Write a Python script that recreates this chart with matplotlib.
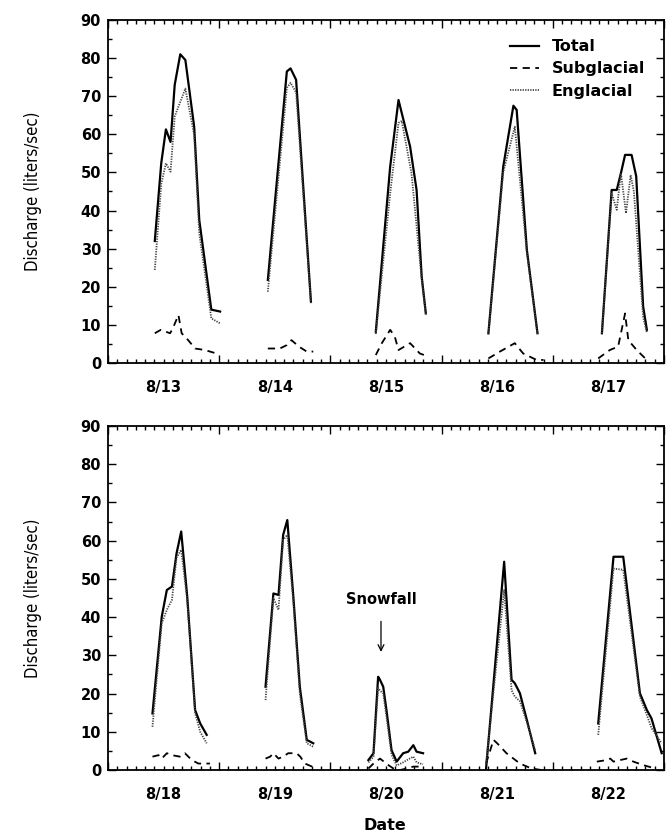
import matplotlib
matplotlib.use("Agg")
import matplotlib.pyplot as plt
from matplotlib.ticker import MultipleLocator

# dates shown on each panel (labels sit at noon of each day)
top_dates = ["8/13", "8/14", "8/15", "8/16", "8/17"]
bottom_dates = ["8/18", "8/19", "8/20", "8/21", "8/22"]

# hour of day / discharge (liters/sec)
total_hours = {
    "8/13": [10.1, 11.5, 12.5, 13.5, 14.4, 15.6, 16.7, 18.6, 19.7, 22.3, 24.2],
    "8/14": [10.5, 14.6, 15.4, 16.6, 19.8],
    "8/15": [9.8, 12.9, 14.7, 17.2, 18.6, 19.7, 20.6],
    "8/16": [10.1, 13.3, 15.5, 16.2, 18.4, 20.7],
    "8/17": [10.6, 12.7, 13.8, 14.7, 15.6, 17.0, 18.0, 19.5, 20.3],
    "8/18": [9.6, 11.6, 12.7, 13.8, 14.8, 15.8, 17.1, 18.8, 19.9, 21.3],
    "8/19": [10.0, 11.7, 12.8, 13.8, 14.7, 16.0, 17.4, 18.9, 20.3],
    "8/20": [8.2, 9.3, 10.3, 10.7, 11.4, 12.1, 13.2, 14.3, 15.7, 16.8, 17.9, 18.6, 20.0],
    "8/21": [9.6, 13.5, 15.1, 15.8, 16.9, 18.4, 20.2],
    "8/22": [9.8, 13.1, 15.2, 18.8, 20.3, 21.3, 23.5],
}
total_vals = {
    "8/13": [32, 52.5, 61.3, 58, 73, 81, 79.5, 62, 37.5, 14, 13.5],
    "8/14": [21.8, 76.5, 77.3, 74.3, 16.1],
    "8/15": [8.2, 51.5, 69, 56.8, 45.4, 22.7, 13],
    "8/16": [7.8, 51.5, 67.5, 66.4, 29.7, 7.8],
    "8/17": [7.8, 45.4, 45.4, 49.8, 54.6, 54.6, 49, 14.8, 8.7],
    "8/18": [14.8, 40.1, 47.1, 48, 56.7, 62.4, 45.4, 15.7, 12.2, 9.2],
    "8/19": [21.8, 46.2, 45.8, 61.5, 65.4, 45.4, 21.8, 7.9, 7],
    "8/20": [2.6, 4.4, 24.4, 23.6, 21.8, 15.7, 5.2, 2.2, 4.4, 4.8, 6.5, 4.8, 4.4],
    "8/21": [0.4, 54.5, 23.6, 22.7, 20.1, 13.1, 4.4],
    "8/22": [12.2, 55.8, 55.8, 20.1, 15.7, 13.5, 4.4],
}

sub_hours = {
    "8/13": [10.1, 11.4, 13.4, 14.0, 15.2, 15.9, 17.3, 18.8, 20.9, 23.4],
    "8/14": [10.5, 13.1, 14.6, 15.6, 17.2, 18.9, 20.3],
    "8/15": [9.8, 11.1, 12.9, 13.9, 14.7, 17.2, 19.3, 21.1],
    "8/16": [10.1, 12.6, 15.8, 17.6, 20.5, 22.0],
    "8/17": [9.8, 12.3, 14.1, 15.6, 16.3, 18.1, 20.3],
    "8/18": [9.6, 10.9, 11.6, 12.7, 13.8, 15.5, 16.6, 18.1, 19.5, 22.0],
    "8/19": [10.0, 11.0, 11.7, 12.8, 13.8, 14.9, 16.7, 17.5, 18.5, 21.0],
    "8/20": [8.2, 9.3, 10.7, 12.5, 13.6, 15.0, 16.5, 17.9, 20.0],
    "8/21": [9.6, 11.2, 12.0, 14.0, 16.9, 19.4, 21.6],
    "8/22": [9.5, 11.6, 12.4, 13.1, 14.5, 16.0, 17.4, 19.5, 22.1],
}
sub_vals = {
    "8/13": [7.8, 8.7, 7.8, 9.1, 12.6, 7.8, 6, 3.8, 3.4, 2.5],
    "8/14": [3.8, 3.8, 4.7, 6, 4.3, 3, 3],
    "8/15": [2.1, 5.2, 8.7, 6.9, 3.4, 5.2, 2.5, 1.7],
    "8/16": [1.2, 3, 5.2, 2.5, 0.8, 0.8],
    "8/17": [1.2, 3.4, 4.3, 13, 6, 3.4, 0.8],
    "8/18": [3.5, 3.9, 3, 4.4, 3.9, 3.5, 4.4, 2.6, 1.7, 1.7],
    "8/19": [3, 3.5, 4.4, 3, 3.5, 4.4, 4.4, 3.5, 1.7, 0.4],
    "8/20": [0.4, 1.7, 3, 1.3, 0.4, 0, 0.4, 0.9, 0.9],
    "8/21": [1.7, 7.9, 7, 4.4, 1.7, 0.4, 0],
    "8/22": [2.2, 2.6, 3, 2.2, 2.6, 3, 2.2, 1.3, 0.4],
}

eng_hours = {
    "8/13": [10.1, 11.5, 12.5, 13.5, 14.4, 16.7, 18.6, 19.7, 22.3, 24.2],
    "8/14": [10.5, 14.6, 15.4, 16.6, 19.8],
    "8/15": [9.8, 12.9, 14.7, 15.4, 17.5, 19.7, 20.6],
    "8/16": [10.1, 13.3, 15.8, 18.4, 20.7],
    "8/17": [10.6, 12.7, 13.8, 14.7, 15.8, 16.8, 17.5, 19.5, 20.3],
    "8/18": [9.6, 11.6, 12.7, 13.8, 14.8, 15.8, 17.1, 18.8, 19.9, 21.3],
    "8/19": [10.0, 11.7, 12.8, 13.8, 14.7, 16.0, 17.4, 18.9, 20.3],
    "8/20": [8.2, 9.3, 10.3, 10.7, 11.4, 12.1, 13.2, 14.3, 15.7, 16.8, 17.9, 18.6, 20.0],
    "8/21": [9.6, 13.5, 15.1, 15.8, 16.9, 18.4, 20.2],
    "8/22": [9.8, 13.1, 15.2, 18.8, 20.3, 21.3, 23.5],
}
eng_vals = {
    "8/13": [24.4, 47, 52.4, 50.2, 64.7, 72, 59.8, 34, 11.7, 10.4],
    "8/14": [18.7, 72.2, 73.5, 71, 15.7],
    "8/15": [7.6, 44.5, 63, 63.5, 49.8, 22, 12.7],
    "8/16": [7.5, 50, 62, 29, 7.5],
    "8/17": [7.8, 44.5, 40.2, 49.8, 39.3, 49.3, 45, 12, 8],
    "8/18": [11.3, 38.4, 41.9, 44.5, 55.6, 57.6, 44.5, 14.9, 10, 7],
    "8/19": [18.3, 45, 41.9, 60.2, 61.5, 44, 20, 7, 6.1],
    "8/20": [2, 3.5, 21.5, 20.8, 20, 14, 4, 1.2, 2, 2.8, 3.5, 2, 1.5],
    "8/21": [1.7, 47.1, 20.9, 19.2, 18, 12.5, 5.2],
    "8/22": [9.2, 52.7, 52.4, 19.2, 14.4, 11, 7],
}

tick_font = dict(family="DejaVu Sans", size=10.5, weight="bold")


def draw_panel(ax, dates, legend=False):
    for i, d in enumerate(dates):
        xt = [i + h / 24.0 for h in total_hours[d]]
        xs = [i + h / 24.0 for h in sub_hours[d]]
        xe = [i + h / 24.0 for h in eng_hours[d]]
        ax.plot(xt, total_vals[d], color="black", lw=1.6, ls="-",
                label="Total" if i == 0 else None)
        ax.plot(xs, sub_vals[d], color="black", lw=1.3, ls=(0, (4, 3)),
                label="Subglacial" if i == 0 else None)
        ax.plot(xe, eng_vals[d], color="#444444", lw=1.3, ls=(0, (0.7, 0.7)),
                label="Englacial" if i == 0 else None)

    ax.set_xlim(0, len(dates))
    ax.set_ylim(0, 90)
    ax.xaxis.set_major_locator(MultipleLocator(1))
    ax.xaxis.set_minor_locator(MultipleLocator(1 / 12))
    ax.yaxis.set_major_locator(MultipleLocator(10))
    ax.yaxis.set_minor_locator(MultipleLocator(5))
    ax.tick_params(which="both", direction="in", top=True, right=True,
                   labelbottom=False, width=1.0)
    ax.tick_params(which="major", length=6)
    ax.tick_params(which="minor", length=3)
    ax.tick_params(axis="y", which="major", pad=5)

    # day labels centered at noon
    for i, d in enumerate(dates):
        ax.text(i + 0.5, -4.5, d, ha="center", va="top", **tick_font)
    for lab in ax.get_yticklabels():
        lab.set_fontfamily("DejaVu Sans")
        lab.set_fontsize(10.5)
        lab.set_fontweight("bold")
    for s in ax.spines.values():
        s.set_linewidth(1.3)

    ax.set_ylabel("Discharge (liters/sec)", fontsize=12, fontstretch="condensed",
                  labelpad=28)
    if legend:
        ax.legend(loc="upper right", frameon=False, handlelength=1.8,
                  handletextpad=0.8, labelspacing=0.45, borderaxespad=0.8,
                  prop=dict(family="DejaVu Sans", size=11.5, weight="bold"))


fig = plt.figure(figsize=(6.72, 8.36), dpi=100)
ax_top = fig.add_axes([0.1607, 0.5658, 0.8274, 0.4103])
ax_bot = fig.add_axes([0.1607, 0.0789, 0.8274, 0.4115])

draw_panel(ax_top, top_dates, legend=True)
draw_panel(ax_bot, bottom_dates)

ax_bot.annotate("Snowfall", xy=(2.455, 30.9), xytext=(2.455, 44.5),
                ha="center", va="center", fontsize=10.5, fontweight="bold",
                family="DejaVu Sans",
                arrowprops=dict(arrowstyle="->", color="black", lw=0.9,
                                shrinkA=8, shrinkB=0))
fig.text(0.573, 0.012, "Date", ha="center", va="center", fontsize=11.5,
         fontweight="bold", family="DejaVu Sans")

fig.savefig("out.png", dpi=100)
